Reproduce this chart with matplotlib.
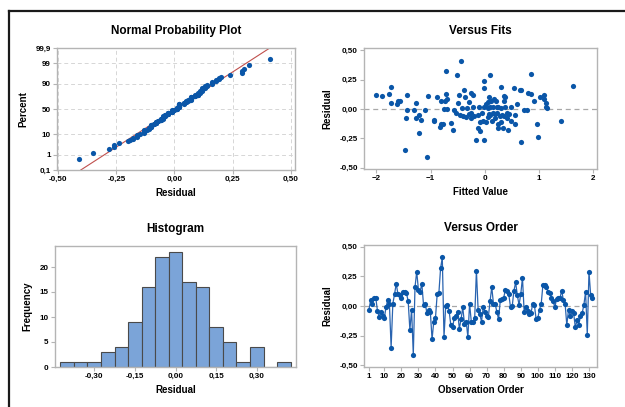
import numpy as np
import matplotlib
matplotlib.use("Agg")
import matplotlib.pyplot as plt
from matplotlib.lines import Line2D
from statistics import NormalDist

plt.rcParams['font.family'] = ['Liberation Sans', 'DejaVu Sans']

# Residuals in observation order
residuals = [
    -0.03, 0.05, 0.02, 0.07, 0.07, -0.04, -0.09, -0.05, -0.08, -0.10,
    -0.01, 0.05, 0.02, -0.35, 0.02, 0.10, 0.19, 0.10, 0.09, 0.07,
    0.12, 0.12, 0.11, 0.04, -0.20, -0.03, -0.41, 0.16, 0.29, 0.14,
    0.12, 0.19, 0.01, 0.02, -0.06, -0.03, -0.05, -0.28, -0.13, -0.10,
    0.10, 0.11, 0.32, 0.41, -0.26, 0.00, 0.01, -0.04, -0.16, -0.18,
    -0.10, -0.08, -0.05, -0.19, -0.11, -0.01, -0.15, -0.13, -0.26, 0.02,
    -0.13, -0.13, -0.10, 0.30, -0.03, -0.07, -0.13, -0.01, -0.05, -0.08,
    -0.09, 0.04, 0.16, 0.02, 0.02, -0.05, -0.11, 0.05, 0.06, 0.07,
    0.14, 0.13, 0.10, -0.01, 0.00, 0.13, 0.20, 0.09, 0.01, 0.10,
    0.24, -0.05, -0.01, -0.04, -0.07, -0.06, 0.02, 0.01, -0.11, -0.10,
    -0.03, 0.02, 0.18, 0.18, 0.16, 0.12, 0.11, 0.07, 0.04, -0.01,
    0.06, 0.07, 0.07, 0.13, 0.05, 0.02, -0.16, -0.03, -0.08, -0.04,
    -0.06, -0.18, -0.12, -0.16, -0.08, -0.06, 0.01, 0.12, -0.24, 0.29,
    0.09, 0.07,
]

# Fitted values, listed in order of increasing residual (rank order)
fits_by_rank = [
    -1.06, -1.47, 0.66, -0.16, -0.02, 0.99, -1.22, -0.09, -0.59, 0.43,
    0.24, -0.13, 0.33, -0.83, -0.77, 0.97, -0.80, 0.56, 0.25, -0.62,
    -0.09, 0.02, 0.30, -0.94, 1.41, 0.49, -0.04, 0.13, -0.93, -1.17,
    -1.46, -1.27, -0.25, 0.40, 0.18, -0.35, 0.05, -0.40, 0.28, -0.20,
    0.35, -1.22, -0.46, -0.12, 0.10, 0.31, 0.56, 0.19, -0.30, 0.08,
    0.45, -0.53, 0.41, -0.05, 0.22, -0.26, 0.15, -1.43, -1.30, -1.10,
    -0.57, 0.72, 0.78, -0.75, -0.70, 1.14, 0.05, 0.30, -0.43, -0.33,
    -0.21, 0.10, 0.25, 1.12, 0.49, -0.10, 0.15, 0.38, 0.22, -0.02,
    -1.62, 0.59, 0.03, -1.74, -1.27, -0.49, 1.12,
    -0.30, 0.06, -1.60, -1.56, -0.81, -0.73, 0.35, 0.90, 0.12, 0.20,
    -0.69, 1.09, 0.16, -0.36, 0.07, 1.02, 0.37, -0.89, -1.89, -1.05,
    0.36, -2.00, -1.43, -0.22, 1.10, -0.47, -1.77, -0.72, 0.86, -0.25,
    0.80, -0.38, 0.65, 0.67, -0.02, 0.53, 0.30, -1.73, 1.62, -0.01,
    -0.51, 0.10, 0.86, -0.72, -0.44,
]

npp_pct_ticks = [0.1, 1, 10, 50, 90, 99, 99.9]
npp_pct_labels = ["0,1", "1", "10", "50", "90", "99", "99,9"]
res_ticks = [-0.50, -0.25, 0.00, 0.25, 0.50]
res_labels = ["-0,50", "-0,25", "0,00", "0,25", "0,50"]
fit_ticks = [-2, -1, 0, 1, 2]
hist_xticks = [-0.30, -0.15, 0.00, 0.15, 0.30]
hist_xlabels = ["-0,30", "-0,15", "0,00", "0,15", "0,30"]
hist_yticks = [0, 5, 10, 15, 20]
order_ticks = [1, 10, 20, 30, 40, 50, 60, 70, 80, 90, 100, 110, 120, 130]

res = np.array(residuals)
n = len(res)
order_idx = np.argsort(res, kind="stable")
fitted = np.empty(n)
fitted[order_idx] = np.array(fits_by_rank[:n])

BLUE = "#0a56a8"
SPINE = "#b4b4b4"
nd = NormalDist()

fig = plt.figure(figsize=(6.25, 4.07), dpi=100)
W, H = 625, 407

def add_ax(l, t, r, b):
    return fig.add_axes([l / W, 1 - b / H, (r - l) / W, (b - t) / H])

def style(ax):
    for s in ax.spines.values():
        s.set_color(SPINE)
        s.set_linewidth(1.0)
    ax.tick_params(axis="both", colors=SPINE, labelcolor="black", length=3,
                   width=0.8, labelsize=5.8, pad=1.5)
    for lab in ax.get_xticklabels() + ax.get_yticklabels():
        lab.set_fontweight("bold")

TFS = 8.5
LFS = 7
XLP = 3.5
YLP = 5

# ---- Normal probability plot
ax1 = add_ax(57, 48, 295, 170)
srt = np.sort(res)
p = (np.arange(1, n + 1) - 0.3) / (n + 0.4)
z = np.array([nd.inv_cdf(v) for v in p])
mu, sd = res.mean(), res.std(ddof=1)
zlo, zhi = nd.inv_cdf(0.001), nd.inv_cdf(0.999)
zz = np.linspace(zlo, zhi, 50)
ax1.plot(mu + sd * zz, zz, color="#c0504d", lw=0.8, zorder=2)
ax1.scatter(srt, z, s=14, color=BLUE, zorder=3, linewidths=0)
ax1.set_xlim(-0.505, 0.518)
ax1.set_ylim(zlo, zhi)
ax1.set_xticks(res_ticks)
ax1.set_xticklabels(res_labels)
ax1.set_yticks([nd.inv_cdf(v / 100) for v in npp_pct_ticks])
ax1.set_yticklabels(npp_pct_labels)
ax1.grid(True, color="#d6d6d6", linestyle=(0, (4, 3)), lw=0.7)
ax1.set_axisbelow(True)
style(ax1)
ax1.set_title("Normal Probability Plot", fontsize=TFS, fontweight="bold", pad=10)
ax1.set_xlabel("Residual", fontsize=LFS, fontweight="bold", labelpad=XLP)
ax1.set_ylabel("Percent", fontsize=LFS, fontweight="bold", labelpad=YLP)

# ---- Versus fits
ax2 = add_ax(364, 48, 597, 169)
ax2.axhline(0, color="#a8a8a8", lw=0.9, linestyle=(0, (4, 3)), zorder=1)
ax2.scatter(fitted, res, s=14, color=BLUE, zorder=3, linewidths=0)
ax2.set_xlim(-2.23, 2.07)
ax2.set_ylim(-0.51, 0.52)
ax2.set_xticks(fit_ticks)
ax2.set_yticks(res_ticks)
ax2.set_yticklabels(res_labels)
style(ax2)
ax2.set_title("Versus Fits", fontsize=TFS, fontweight="bold", pad=10)
ax2.set_xlabel("Fitted Value", fontsize=LFS, fontweight="bold", labelpad=XLP)
ax2.set_ylabel("Residual", fontsize=LFS, fontweight="bold", labelpad=YLP)

# ---- Histogram
ax3 = add_ax(55, 246, 296, 367)
edges = np.round(np.arange(-0.425, 0.4251, 0.05), 3)
ax3.hist(res, bins=edges, color="#7ba4d8", edgecolor="#4a4a4a", linewidth=0.8)
ax3.set_xlim(-0.445, 0.445)
ax3.set_ylim(0, 24.2)
ax3.set_xticks(hist_xticks)
ax3.set_xticklabels(hist_xlabels)
ax3.set_yticks(hist_yticks)
style(ax3)
ax3.set_title("Histogram", fontsize=TFS, fontweight="bold", pad=10)
ax3.set_xlabel("Residual", fontsize=LFS, fontweight="bold", labelpad=XLP)
ax3.set_ylabel("Frequency", fontsize=LFS, fontweight="bold", labelpad=YLP)

# ---- Versus order
ax4 = add_ax(364, 245, 597, 367)
obs = np.arange(1, n + 1)
ax4.axhline(0, color="#a8a8a8", lw=0.9, linestyle=(0, (4, 3)), zorder=1)
ax4.plot(obs, res, color="#2a64b0", lw=0.9, zorder=2)
ax4.scatter(obs, res, s=14, color=BLUE, zorder=3, linewidths=0)
ax4.set_xlim(-1.9, 134.7)
ax4.set_ylim(-0.513, 0.515)
ax4.set_xticks(order_ticks)
ax4.set_yticks(res_ticks)
ax4.set_yticklabels(res_labels)
style(ax4)
ax4.set_title("Versus Order", fontsize=TFS, fontweight="bold", pad=10)
ax4.set_xlabel("Observation Order", fontsize=LFS, fontweight="bold", labelpad=XLP)
ax4.set_ylabel("Residual", fontsize=LFS, fontweight="bold", labelpad=YLP)

# ---- Graph frame (left and top edges)
fig.add_artist(Line2D([8.5 / W, 8.5 / W], [0, 1 - 11 / H], color="#1a1a1a", lw=1.6,
                      transform=fig.transFigure))
fig.add_artist(Line2D([8.5 / W, 1], [1 - 11 / H, 1 - 11 / H], color="#1a1a1a", lw=1.6,
                      transform=fig.transFigure))

fig.savefig("out.png", dpi=100, facecolor="white")
